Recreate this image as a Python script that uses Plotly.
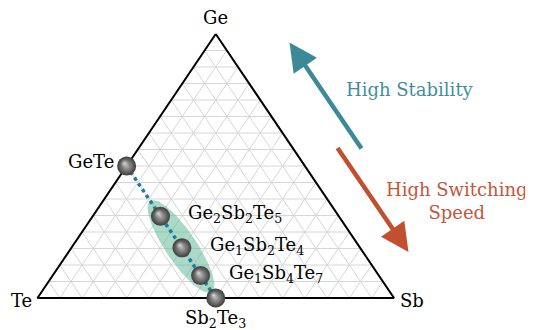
import numpy as np
import plotly.graph_objects as go

# ---------------- data ----------------
vertex_labels = ["Ge", "Te", "Sb"]
compounds = ["GeTe",
             "Ge<sub>2</sub>Sb<sub>2</sub>Te<sub>5</sub>",
             "Ge<sub>1</sub>Sb<sub>2</sub>Te<sub>4</sub>",
             "Ge<sub>1</sub>Sb<sub>4</sub>Te<sub>7</sub>",
             "Sb<sub>2</sub>Te<sub>3</sub>"]
ge_frac = [0.50, 0.31, 0.19, 0.085, 0.0]
sb_frac = [0.0, 0.19, 0.31, 0.415, 0.5]
te_frac = [0.50, 0.50, 0.50, 0.50, 0.50]
grid_divisions = 16
arrow_labels = ["High Stability", "High Switching<br>Speed"]

# ---------------- helpers ----------------
OFF = 8                      # page body margin
W, H = 533 - OFF, 330 - OFF
XR = [-29.5 / 356.5, (W - 29.5) / 356.5]
YR = [(290 - H) / 264.0, 290 / 264.0]
SX = W / (XR[1] - XR[0])   # px per data unit
SY = H / (YR[1] - YR[0])


def tern(ge, sb):
    ge = np.asarray(ge, float)
    sb = np.asarray(sb, float)
    return sb + ge / 2.0, ge


def paper(px, py):
    return (px - OFF) / W, 1 - (py - OFF) / H


FONT = "DejaVu Serif"
fig = go.Figure()

# grid lines (three families)
gx, gy = [], []
for i in range(1, grid_divisions):
    f = i / grid_divisions
    x1, y1 = tern(f, 0.0)
    x2, y2 = tern(f, 1 - f)
    gx += [float(x1), float(x2), None]; gy += [float(y1), float(y2), None]
    x1, y1 = tern(0.0, f)
    x2, y2 = tern(1 - f, f)
    gx += [float(x1), float(x2), None]; gy += [float(y1), float(y2), None]
    x1, y1 = tern(1 - f, 0.0)
    x2, y2 = tern(0.0, 1 - f)
    gx += [float(x1), float(x2), None]; gy += [float(y1), float(y2), None]
fig.add_trace(go.Scatter(x=gx, y=gy, mode="lines",
                         line=dict(color="#d6d6d6", width=1),
                         hoverinfo="skip", showlegend=False))

# triangle outline
vx, vy = tern([1, 0, 0, 1], [0, 0, 1, 0])
fig.add_trace(go.Scatter(x=vx, y=vy, mode="lines",
                         line=dict(color="black", width=2),
                         hoverinfo="skip", showlegend=False))

# compound positions
px_, py_ = tern(ge_frac, sb_frac)

# highlight ellipse around the three ternary compounds
cx, cy = float(np.mean(px_[1:4])), float(np.mean(py_[1:4]))
dxp = (px_[-1] - px_[0]) * SX
dyp = (py_[-1] - py_[0]) * SY
L = np.hypot(dxp, dyp)
ux, uy = dxp / L, dyp / L
a_px, b_px = 55.0, 15.5
t = np.linspace(0, 2 * np.pi, 120)
ex_px = a_px * np.cos(t) * ux - b_px * np.sin(t) * uy
ey_px = a_px * np.cos(t) * uy + b_px * np.sin(t) * ux
fig.add_trace(go.Scatter(x=cx + ex_px / SX, y=cy + ey_px / SY, mode="lines",
                         fill="toself", fillcolor="rgba(100,185,155,0.55)",
                         line=dict(width=0), hoverinfo="skip", showlegend=False))

# dotted tie line
fig.add_trace(go.Scatter(x=px_, y=py_, mode="lines",
                         line=dict(color="#1d7d9e", width=3.5, dash="dot"),
                         hoverinfo="skip", showlegend=False))

# spheres
fig.add_trace(go.Scatter(x=px_, y=py_, mode="markers",
                         marker=dict(size=19, color="#3c3c3c",
                                     gradient=dict(type="radial", color="#b0b0b0"),
                                     line=dict(width=0)),
                         hoverinfo="skip", showlegend=False))
fig.add_trace(go.Scatter(x=px_ - 2.0 / SX, y=py_ + 2.5 / SY, mode="markers",
                         marker=dict(size=9, color="rgba(170,170,170,0)",
                                     gradient=dict(type="radial", color="rgba(230,230,230,0.9)"),
                                     line=dict(width=0)),
                         hoverinfo="skip", showlegend=False))

# ---------------- annotations ----------------
ann = []
gxv, gyv = tern(1, 0)
ann.append(dict(x=float(gxv), y=float(gyv), text=vertex_labels[0], showarrow=False,
                xanchor="center", yanchor="bottom", yshift=4))
txv, tyv = tern(0, 0)
ann.append(dict(x=float(txv), y=float(tyv), text=vertex_labels[1], showarrow=False,
                xanchor="right", yanchor="middle", xshift=-4, yshift=-2))
sxv, syv = tern(0, 1)
ann.append(dict(x=float(sxv), y=float(syv), text=vertex_labels[2], showarrow=False,
                xanchor="left", yanchor="middle", xshift=4, yshift=-2))

ann.append(dict(x=float(px_[0]), y=float(py_[0]), text=compounds[0], showarrow=False,
                xanchor="right", yanchor="middle", xshift=-11, yshift=5))
for i in (1, 2, 3):
    ann.append(dict(x=float(px_[i]), y=float(py_[i]), text=compounds[i], showarrow=False,
                    xanchor="left", yanchor="middle", xshift=26, yshift=2))
ann.append(dict(x=float(px_[4]), y=float(py_[4]), text=compounds[4], showarrow=False,
                xanchor="center", yanchor="top", yshift=-7))

for a in ann:
    a["font"] = dict(family=FONT, size=18, color="black")

teal = "#3d8a97"
red = "#c24f2f"
tx, ty = paper(289.5, 42.5)
ann.append(dict(xref="paper", yref="paper", x=tx, y=ty,
                ax=73, ay=107.5, showarrow=True, arrowhead=2, arrowsize=1.25,
                arrowwidth=4.5, arrowcolor=teal, text=""))
tx, ty = paper(408.5, 252)
ann.append(dict(xref="paper", yref="paper", x=tx, y=ty,
                ax=-72, ay=-105.5, showarrow=True, arrowhead=2, arrowsize=1.25,
                arrowwidth=4.5, arrowcolor=red, text=""))
tx, ty = paper(410, 90)
ann.append(dict(xref="paper", yref="paper", x=tx, y=ty,
                text=arrow_labels[0], showarrow=False, xanchor="center", yanchor="middle",
                font=dict(family=FONT, size=18, color="#3f8e9b")))
tx, ty = paper(457, 201)
ann.append(dict(xref="paper", yref="paper", x=tx, y=ty,
                text=arrow_labels[1], showarrow=False, xanchor="center", yanchor="middle",
                align="center",
                font=dict(family=FONT, size=18, color="#c6553a")))

fig.update_layout(
    width=W, height=H,
    margin=dict(l=0, r=0, t=0, b=0),
    paper_bgcolor="white", plot_bgcolor="white",
    xaxis=dict(range=XR, visible=False, fixedrange=True),
    yaxis=dict(range=YR, visible=False, fixedrange=True),
    annotations=ann,
    showlegend=False,
)

fig.write_html("out.html")
